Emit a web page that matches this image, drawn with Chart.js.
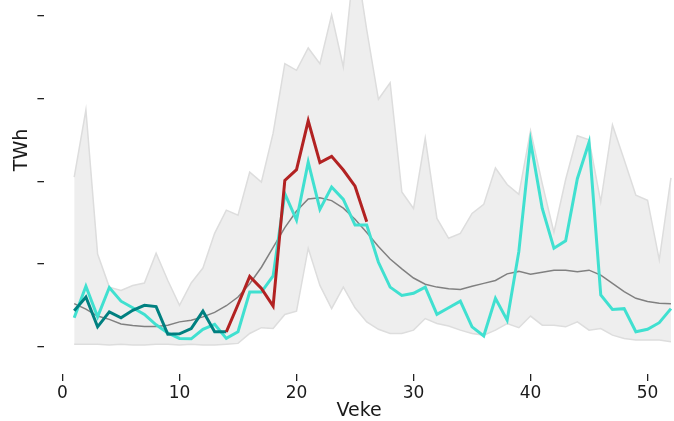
<!DOCTYPE html>
<html>
<head>
<meta charset="utf-8">
<script src="https://cdn.jsdelivr.net/npm/chart.js@4/dist/chart.umd.min.js"></script>
<style>
  html, body { margin: 0; padding: 0; background: #fff; overflow: hidden; }
  #wrap { position: relative; width: 674px; height: 421px; overflow: hidden; }
  /* axes run past the top edge of the picture, like the cropped original */
  #chart { position: absolute; left: 0; top: -74px; }
</style>
</head>
<body>
<div id="wrap"><canvas id="chart" width="674" height="495"></canvas></div>
<script>
// ======================
// Data (TWh per week)
// ======================
const weeks = [1, 2, 3, 4, 5, 6, 7, 8, 9, 10, 11, 12, 13, 14, 15, 16, 17, 18, 19, 20,
  21, 22, 23, 24, 25, 26, 27, 28, 29, 30, 31, 32, 33, 34, 35, 36, 37, 38, 39, 40,
  41, 42, 43, 44, 45, 46, 47, 48, 49, 50, 51, 52];

const bandMax = [2.05, 2.86, 1.12, 0.72, 0.68, 0.74, 0.77, 1.13, 0.8, 0.5,
  0.77, 0.95, 1.37, 1.65, 1.59, 2.11, 1.99, 2.58, 3.42, 3.34,
  3.61, 3.42, 4.01, 3.38, 4.75, 3.83, 2.99, 3.19, 1.87, 1.67,
  2.52, 1.55, 1.31, 1.37, 1.61, 1.72, 2.16, 1.96, 1.84, 2.61,
  1.97, 1.38, 2.02, 2.55, 2.5, 1.75, 2.68, 2.26, 1.83, 1.77,
  1.05, 2.04];

const bandMin = [0.03, 0.03, 0.03, 0.02, 0.03, 0.02, 0.02, 0.03, 0.03, 0.02,
  0.03, 0.02, 0.02, 0.03, 0.04, 0.16, 0.23, 0.22, 0.39, 0.43,
  1.19, 0.74, 0.46, 0.72, 0.47, 0.3, 0.21, 0.16, 0.16, 0.2,
  0.34, 0.28, 0.25, 0.2, 0.16, 0.14, 0.2, 0.28, 0.23, 0.37,
  0.26, 0.26, 0.24, 0.3, 0.2, 0.22, 0.14, 0.1, 0.08, 0.08,
  0.08, 0.06];

const median = [0.52, 0.455, 0.37, 0.33, 0.275, 0.255, 0.245, 0.245, 0.26, 0.3,
  0.32, 0.36, 0.415, 0.495, 0.6, 0.76, 0.96, 1.2, 1.44, 1.64,
  1.785, 1.8, 1.765, 1.675, 1.54, 1.38, 1.21, 1.06, 0.94, 0.83,
  0.755, 0.72, 0.7, 0.69, 0.73, 0.765, 0.8, 0.88, 0.91, 0.875,
  0.9, 0.925, 0.925, 0.905, 0.925, 0.865, 0.765, 0.665, 0.585, 0.545,
  0.525, 0.52];

const turquoiseVals = [0.35, 0.73, 0.36, 0.715, 0.55, 0.47, 0.39, 0.265, 0.165, 0.1,
  0.095, 0.21, 0.27, 0.1, 0.18, 0.66, 0.66, 0.855, 1.85, 1.53,
  2.23, 1.66, 1.93, 1.78, 1.47, 1.47, 1.02, 0.72, 0.62, 0.645,
  0.72, 0.39, 0.47, 0.55, 0.24, 0.13, 0.585, 0.32, 1.15, 2.48,
  1.67, 1.19, 1.28, 2.03, 2.47, 0.625, 0.45, 0.46, 0.18, 0.21,
  0.29, 0.46];

// weeks 1-14
const tealVals = [0.435, 0.6, 0.24, 0.42, 0.35, 0.44, 0.5, 0.485, 0.15, 0.155,
  0.22, 0.43, 0.18, 0.18];

// weeks 14-26
const redWeeks = [14, 15, 16, 17, 18, 19, 20, 21, 22, 23, 24, 25, 26];
const redVals = [0.18, 0.51, 0.85, 0.705, 0.49, 2.01, 2.14, 2.73, 2.225, 2.3, 2.135, 1.94, 1.51];

const xTicks = [0, 10, 20, 30, 40, 50];
const yTicks = [0, 1, 2, 3, 4];

// ======================
// Helpers
// ======================
function toPoints(xs, ys) {
  return ys.map((v, i) => ({ x: xs[i], y: v }));
}

function line(data, color, width) {
  return {
    data: data,
    borderColor: color,
    borderWidth: width,
    pointRadius: 0,
    tension: 0,
    fill: false
  };
}

const FONT = 'DejaVu Sans';

// first dataset is drawn on top
const datasets = [
  line(toPoints(redWeeks, redVals), '#b22222', 3),
  line(toPoints(weeks, tealVals), '#008080', 3),
  line(toPoints(weeks, turquoiseVals), '#40e0d0', 3),
  line(toPoints(weeks, median), '#808080', 1.5),
  Object.assign(line(toPoints(weeks, bandMax), '#dddddd', 1.5), { fill: '+1', backgroundColor: '#eeeeee' }),
  line(toPoints(weeks, bandMin), '#dddddd', 1.5)
];

new Chart(document.getElementById('chart'), {
  type: 'line',
  data: { datasets: datasets },
  options: {
    responsive: false,
    animation: false,
    devicePixelRatio: 1,
    layout: { padding: 0, autoPadding: false },
    plugins: {
      legend: { display: false },
      tooltip: { enabled: false },
      filler: { drawTime: 'beforeDatasetsDraw' }
    },
    scales: {
      x: {
        type: 'linear',
        min: -1.547,
        max: 52.26,
        afterBuildTicks: (scale) => { scale.ticks = xTicks.map(v => ({ value: v })); },
        afterFit: (scale) => { scale.height = 47; },
        border: { display: false },
        grid: { drawOnChartArea: false, drawTicks: true, tickLength: 7, color: '#222', lineWidth: 1.3 },
        ticks: { color: '#1a1a1a', font: { family: FONT, size: 17 }, padding: 2, maxRotation: 0 },
        title: { display: true, text: 'Veke', color: '#1a1a1a', font: { family: FONT, size: 19, lineHeight: 1 }, padding: 0 }
      },
      y: {
        min: -0.33,
        max: 5.084,
        afterBuildTicks: (scale) => { scale.ticks = yTicks.map(v => ({ value: v })); },
        afterFit: (scale) => { scale.width = 44.4; },
        border: { display: false },
        grid: { drawOnChartArea: false, drawTicks: true, tickLength: 7, color: '#222', lineWidth: 1.3 },
        ticks: { display: false },
        title: { display: true, text: 'TWh', color: '#1a1a1a', font: { family: FONT, size: 19 }, padding: { top: 11, bottom: 0 } }
      }
    }
  }
});
</script>
</body>
</html>
